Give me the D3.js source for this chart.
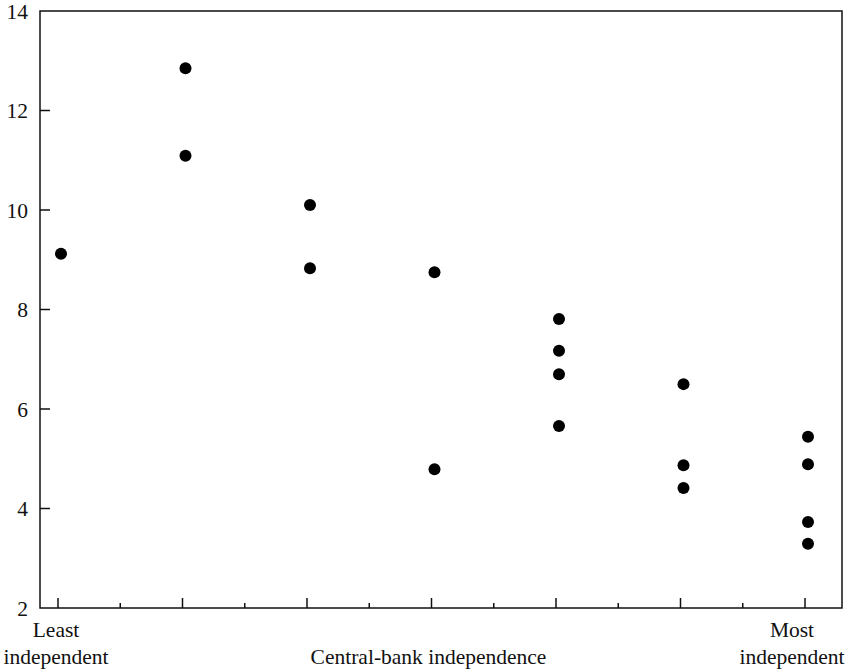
<!doctype html>
<html>
<head>
<script src="https://d3js.org/d3.v7.min.js"></script>
<style>
  body { margin: 0; background: #fff; }
  text { font-family: "Liberation Serif", "Times New Roman", serif; fill: #111; }
</style>
</head>
<body>
<svg width="850" height="670"></svg>
<script>
// central-bank independence category (1 = least, 7 = most) and inflation value
var category = [1, 2, 2, 3, 3, 4, 4, 5, 5, 5, 5, 6, 6, 6, 7, 7, 7, 7];
var inflation = [9.12, 12.85, 11.09, 10.10, 8.83, 8.75, 4.79, 7.81, 7.17, 6.70, 5.66, 6.50, 4.87, 4.41, 5.44, 4.89, 3.73, 3.29];
var yTicks = [2, 4, 6, 8, 10, 12, 14];
var xMajor = [1, 2, 3, 4, 5, 6, 7];
var xMinor = [1.5, 2.5, 3.5, 4.5, 5.5, 6.5];

var svg = d3.select("svg");
var frameL = 40, frameR = 842, frameT = 11, frameB = 608;

var x = d3.scaleLinear().domain([1, 7]).range([58, 805]);
var y = d3.scaleLinear().domain([2, 14]).range([frameB, frameT]);

var g = svg.append("g");

// frame
g.append("rect")
    .attr("x", frameL).attr("y", frameT)
    .attr("width", frameR - frameL).attr("height", frameB - frameT)
    .attr("fill", "none").attr("stroke", "#111").attr("stroke-width", 1.5);

// y ticks (inward)
g.selectAll(".ytick").data(yTicks.slice(1, -1)).enter().append("line")
    .attr("x1", frameL).attr("x2", frameL + 10)
    .attr("y1", function(d) { return y(d); }).attr("y2", function(d) { return y(d); })
    .attr("stroke", "#111").attr("stroke-width", 1.5);

g.selectAll(".ylab").data(yTicks).enter().append("text")
    .attr("x", 28)
    .attr("y", function(d) { return y(d); })
    .attr("dy", "0.35em")
    .attr("text-anchor", "end")
    .attr("font-size", "21.5px")
    .text(function(d) { return d; });

// x ticks (inward)
g.selectAll(".xmaj").data(xMajor).enter().append("line")
    .attr("x1", function(d) { return x(d); }).attr("x2", function(d) { return x(d); })
    .attr("y1", frameB).attr("y2", frameB - 10)
    .attr("stroke", "#111").attr("stroke-width", 1.5);

g.selectAll(".xmin").data(xMinor).enter().append("line")
    .attr("x1", function(d) { return x(d); }).attr("x2", function(d) { return x(d); })
    .attr("y1", frameB).attr("y2", frameB - 5)
    .attr("stroke", "#111").attr("stroke-width", 1.5);

// x labels
function twoLine(cx, l1, l2) {
    var t = g.append("text").attr("text-anchor", "middle").attr("font-size", "21.5px");
    t.append("tspan").attr("x", cx).attr("y", 637).text(l1);
    t.append("tspan").attr("x", cx).attr("y", 664).text(l2);
}
twoLine(x(1) - 2, "Least", "independent");
twoLine(x(7) - 13, "Most", "independent");

g.append("text")
    .attr("x", (x(1) + x(7)) / 2 - 3)
    .attr("y", 664)
    .attr("text-anchor", "middle")
    .attr("font-size", "21.5px")
    .text("Central-bank independence");

// points
g.selectAll(".dot").data(inflation).enter().append("circle")
    .attr("cx", function(d, i) { return x(category[i]) + 3; })
    .attr("cy", function(d) { return y(d); })
    .attr("r", 6)
    .attr("fill", "#000");
</script>
</body>
</html>
